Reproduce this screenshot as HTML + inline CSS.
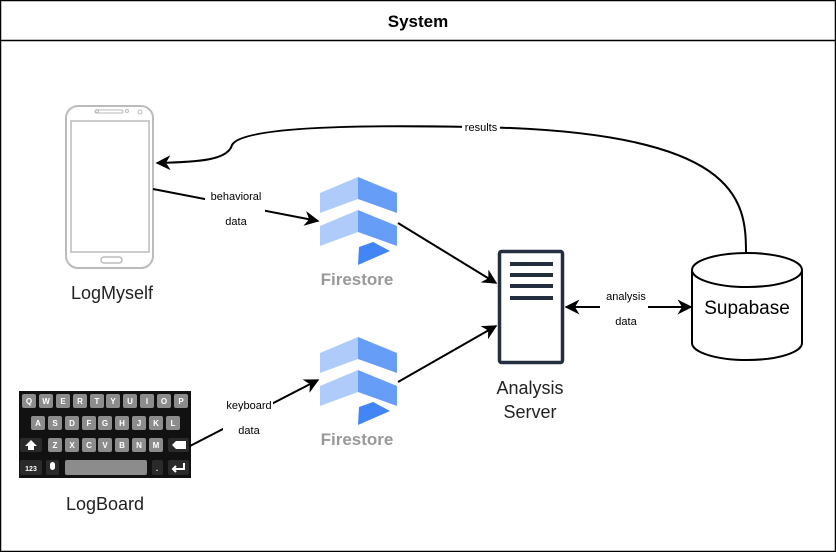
<!DOCTYPE html>
<html><head><style>
html,body{margin:0;padding:0;background:#fff;}
svg{display:block;font-family:"Liberation Sans",Arial,sans-serif;}
</style></head><body>
<svg width="836" height="552" viewBox="0 0 836 552" xmlns="http://www.w3.org/2000/svg">
<defs>
<marker id="ar2" viewBox="0 0 10 10" refX="9" refY="5" markerWidth="15" markerHeight="15" markerUnits="userSpaceOnUse" orient="auto">
<path d="M0,0 L10,5 L0,10 L3,5 z" fill="#000"/>
</marker>
</defs>
<rect x="0.5" y="0.5" width="835" height="551" fill="#fff" stroke="#000" stroke-width="1.5"/>
<line x1="0" y1="40.5" x2="836" y2="40.5" stroke="#000" stroke-width="1.5"/>
<text x="418" y="27" text-anchor="middle" font-size="17" font-weight="bold">System</text>

<!-- Phone -->
<rect x="66" y="106" width="87" height="162" rx="12" fill="#fff" stroke="#bbb" stroke-width="2"/>
<rect x="71" y="121" width="78" height="131" fill="#fff" stroke="#bbb" stroke-width="1.5"/>
<rect x="95" y="110" width="28" height="3" rx="1.5" fill="none" stroke="#bbb"/>
<circle cx="97" cy="111" r="1.5" fill="none" stroke="#bbb"/>
<circle cx="127" cy="111" r="1.5" fill="none" stroke="#bbb"/>
<circle cx="140" cy="112" r="2" fill="none" stroke="#bbb"/>
<rect x="101" y="257" width="21" height="6" rx="3" fill="none" stroke="#bbb" stroke-width="1.5"/>
<text x="112" y="299" text-anchor="middle" font-size="18" fill="#222">LogMyself</text>

<!-- Keyboard -->
<rect x="19" y="391" width="172" height="87" fill="#111"/>
<g fill="#8c8c8c">
<rect x="22" y="394" width="14" height="14" rx="2"/><rect x="39" y="394" width="14" height="14" rx="2"/><rect x="56" y="394" width="14" height="14" rx="2"/><rect x="73" y="394" width="14" height="14" rx="2"/><rect x="90" y="394" width="14" height="14" rx="2"/><rect x="106" y="394" width="14" height="14" rx="2"/><rect x="123" y="394" width="14" height="14" rx="2"/><rect x="140" y="394" width="14" height="14" rx="2"/><rect x="157" y="394" width="14" height="14" rx="2"/><rect x="174" y="394" width="14" height="14" rx="2"/>
<rect x="31" y="416" width="14" height="14" rx="2"/><rect x="48" y="416" width="14" height="14" rx="2"/><rect x="65" y="416" width="14" height="14" rx="2"/><rect x="82" y="416" width="14" height="14" rx="2"/><rect x="98" y="416" width="14" height="14" rx="2"/><rect x="115" y="416" width="14" height="14" rx="2"/><rect x="132" y="416" width="14" height="14" rx="2"/><rect x="149" y="416" width="14" height="14" rx="2"/><rect x="166" y="416" width="14" height="14" rx="2"/>
<rect x="48" y="438" width="14" height="14" rx="2"/><rect x="65" y="438" width="14" height="14" rx="2"/><rect x="82" y="438" width="14" height="14" rx="2"/><rect x="98" y="438" width="14" height="14" rx="2"/><rect x="115" y="438" width="14" height="14" rx="2"/><rect x="132" y="438" width="14" height="14" rx="2"/><rect x="149" y="438" width="14" height="14" rx="2"/>
<rect x="65" y="460" width="82" height="15" rx="2"/>
</g>
<g fill="#2a2a2a"><rect x="20" y="438" width="22" height="14" rx="2"/><rect x="168" y="438" width="21" height="14" rx="2"/><rect x="20" y="460" width="22" height="15" rx="2"/><rect x="46" y="460" width="13" height="15" rx="2"/><rect x="152" y="460" width="11" height="15" rx="2"/><rect x="168" y="460" width="21" height="15" rx="2"/></g>
<g fill="#fff" font-size="8" font-weight="bold" text-anchor="middle">
<text x="29" y="404">Q</text><text x="46" y="404">W</text><text x="63" y="404">E</text><text x="80" y="404">R</text><text x="97" y="404">T</text><text x="113" y="404">Y</text><text x="130" y="404">U</text><text x="147" y="404">I</text><text x="164" y="404">O</text><text x="181" y="404">P</text>
<text x="38" y="426">A</text><text x="55" y="426">S</text><text x="72" y="426">D</text><text x="89" y="426">F</text><text x="105" y="426">G</text><text x="122" y="426">H</text><text x="139" y="426">J</text><text x="156" y="426">K</text><text x="173" y="426">L</text>
<text x="55" y="448">Z</text><text x="72" y="448">X</text><text x="89" y="448">C</text><text x="105" y="448">V</text><text x="122" y="448">B</text><text x="139" y="448">N</text><text x="156" y="448">M</text>
<text x="31" y="471" font-size="7">123</text><text x="157" y="471">.</text>
</g>
<path d="M31,440 L37,446 L34,446 L34,450 L28,450 L28,446 L25,446 Z" fill="#fff"/>
<path d="M172,445 L176,441 L186,441 L186,449 L176,449 Z" fill="#fff"/>
<rect x="50" y="462" width="5" height="8" rx="2.5" fill="#fff"/>
<path d="M184,463 L184,469 L173,469 M176,466 L173,469 L176,472" stroke="#fff" stroke-width="2" fill="none"/>
<text x="105" y="510" text-anchor="middle" font-size="18" fill="#222">LogBoard</text>

<!-- Firestore -->
<g>
<polygon points="320,193 358,177 358,199 320,213" fill="#aecbfa"/>
<polygon points="358,177 397,193 397,213 358,199" fill="#669df6"/>
<polygon points="320,226 358,210 358,232 320,246" fill="#aecbfa"/>
<polygon points="358,210 397,226 397,246 358,232" fill="#669df6"/>
<polygon points="359,247 373,242 390,251 358,265" fill="#4285f4"/>
<text x="357" y="285" text-anchor="middle" font-size="17" font-weight="bold" fill="#999">Firestore</text>
</g>
<g transform="translate(0,160)">
<polygon points="320,193 358,177 358,199 320,213" fill="#aecbfa"/>
<polygon points="358,177 397,193 397,213 358,199" fill="#669df6"/>
<polygon points="320,226 358,210 358,232 320,246" fill="#aecbfa"/>
<polygon points="358,210 397,226 397,246 358,232" fill="#669df6"/>
<polygon points="359,247 373,242 390,251 358,265" fill="#4285f4"/>
<text x="357" y="285" text-anchor="middle" font-size="17" font-weight="bold" fill="#999">Firestore</text>
</g>

<!-- Server -->
<rect x="499.5" y="251.5" width="63" height="111" rx="2" fill="#fff" stroke="#232f3e" stroke-width="3.5"/>
<g fill="#232f3e"><rect x="510" y="262" width="43" height="4"/><rect x="510" y="273" width="43" height="4"/><rect x="510" y="284" width="43" height="4"/><rect x="510" y="296" width="43" height="4"/></g>
<text x="530" y="394" text-anchor="middle" font-size="18" fill="#222">Analysis</text>
<text x="530" y="418" text-anchor="middle" font-size="18" fill="#222">Server</text>

<!-- Supabase cylinder -->
<path d="M692,270 L692,343 A55,17 0 0 0 802,343 L802,270" fill="#fff" stroke="#000" stroke-width="2"/>
<ellipse cx="747" cy="270" rx="55" ry="17" fill="#fff" stroke="#000" stroke-width="2"/>
<text x="747" y="314" text-anchor="middle" font-size="19" fill="#000">Supabase</text>

<!-- Connectors -->
<path d="M746,253 C746,200 740,130 470,127 C320,124 240,130 232,145 C228,160 200,162 157,163" fill="none" stroke="#000" stroke-width="2" marker-end="url(#ar2)"/>
<rect x="462" y="121" width="38" height="13" fill="#fff"/>
<text x="481" y="131" text-anchor="middle" font-size="11">results</text>

<path d="M153,189 L318,221" fill="none" stroke="#000" stroke-width="2" marker-end="url(#ar2)"/>
<rect x="205" y="188" width="60" height="42" fill="#fff"/>
<text x="236" y="200" text-anchor="middle" font-size="11">behavioral</text>
<text x="236" y="225" text-anchor="middle" font-size="11">data</text>

<path d="M190,446 L318,380" fill="none" stroke="#000" stroke-width="2" marker-end="url(#ar2)"/>
<rect x="223" y="398" width="50" height="40" fill="#fff"/>
<text x="249" y="409" text-anchor="middle" font-size="11">keyboard</text>
<text x="249" y="434" text-anchor="middle" font-size="11">data</text>

<path d="M398,223 L496,283" fill="none" stroke="#000" stroke-width="2" marker-end="url(#ar2)"/>
<path d="M398,382 L496,326" fill="none" stroke="#000" stroke-width="2" marker-end="url(#ar2)"/>

<path d="M600,307 L566,307" fill="none" stroke="#000" stroke-width="2" marker-end="url(#ar2)"/>
<path d="M648,307 L691,307" fill="none" stroke="#000" stroke-width="2" marker-end="url(#ar2)"/>
<text x="626" y="300" text-anchor="middle" font-size="11">analysis</text>
<text x="626" y="325" text-anchor="middle" font-size="11">data</text>
</svg>
</body></html>
